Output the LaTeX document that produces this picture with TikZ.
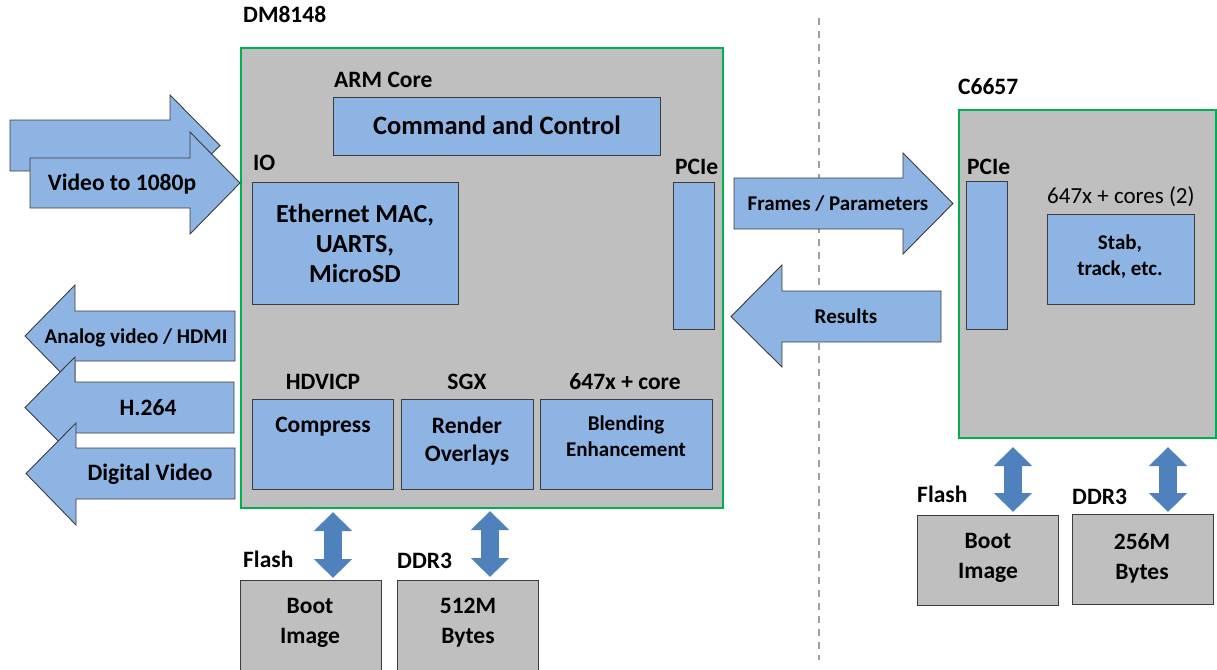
\documentclass[tikz,border=0pt]{standalone}
\usepackage{fontspec}
\setmainfont{Carlito}
\usetikzlibrary{arrows.meta}
\definecolor{chipgray}{RGB}{191,191,191}
\definecolor{blk}{RGB}{141,180,226}
\definecolor{grn}{RGB}{0,176,80}
\definecolor{dblblue}{RGB}{79,129,189}
\definecolor{edgegray}{RGB}{60,60,60}
\definecolor{sepgray}{RGB}{160,160,160}
\tikzset{
  chip/.style={draw=grn, line width=2.2pt, fill=chipgray, anchor=north west, inner sep=0pt},
  bluebox/.style={draw=edgegray, line width=0.9pt, fill=blk, anchor=north west, inner sep=0pt},
  mem/.style={draw=edgegray, line width=0.9pt, fill=chipgray, anchor=north west, inner sep=0pt},
  barrow/.style={draw=edgegray, line width=0.9pt, fill=blk, line join=miter},
  tbig/.style={font=\fontsize{26.5}{31}\selectfont\bfseries, inner sep=0pt, align=center},
  tmid/.style={font=\fontsize{23.5}{30}\selectfont\bfseries, inner sep=0pt, align=center},
  tsm/.style={font=\fontsize{21}{26}\selectfont\bfseries, inner sep=0pt, align=center},
  lbl/.style={font=\fontsize{23.5}{28}\selectfont\bfseries, inner sep=0pt, anchor=base west},
  dblarrow/.style={draw=dblblue, line width=18pt,
     {Triangle[width=37pt,length=19pt,fill=dblblue]}-{Triangle[width=37pt,length=19pt,fill=dblblue]}},
  sepline/.style={draw=sepgray, line width=1.6pt, dash pattern=on 7pt off 6pt},
}
\begin{document}
\begin{tikzpicture}[x=1pt,y=-1pt]
\useasboundingbox (0,0) rectangle (1217,669);

% dashed separator
\coordinate (dsT) at (819,18);
\coordinate (dsB) at (819,660);
\draw[sepline] (dsT) -- (dsB);

% ---------- DM8148 ----------
\node[lbl] (dmlbl) at (243,23) {DM8148};
\node[chip, minimum width=482, minimum height=460] (dm) at (240,47) {};
\node[lbl] (armlbl) at (334,87) {ARM Core};
\node[bluebox, minimum width=327, minimum height=58] (cmd) at (333,97) {};
\node[tbig] (cmdt) at (497,125) {Command and Control};
\node[lbl] (iolbl) at (253,170) {IO};
\node[bluebox, minimum width=206, minimum height=122] (eth) at (252,182) {};
\node[tbig, font=\fontsize{26}{30}\selectfont\bfseries] (etht) at (355,243) {Ethernet MAC,\\UARTS,\\MicroSD};
\node[lbl] (pcielbl) at (675,174) {PCIe};
\node[bluebox, minimum width=41, minimum height=147] (pcie) at (673,182) {};
\node[tmid, anchor=base] (hdlbl) at (323,389) {HDVICP};
\node[tmid, anchor=base] (sgxlbl) at (467,389) {SGX};
\node[tmid, anchor=base] (c647lbl) at (625,389) {647x + core};
\node[bluebox, minimum width=141, minimum height=90] (comp) at (252,399) {};
\node[bluebox, minimum width=132, minimum height=90] (rend) at (401,399) {};
\node[bluebox, minimum width=172, minimum height=90] (blend) at (540,399) {};
\node[tmid] (compt) at (323,427) {Compress};
\node[tmid, font=\fontsize{23.5}{28}\selectfont\bfseries] (rendt) at (467,441) {Render\\Overlays};
\node[tsm] (blendt) at (626,436) {Blending\\Enhancement};

% memories DM8148
\node[lbl] (fl1) at (243,567) {Flash};
\node[lbl] (dd1) at (397,568) {DDR3};
\node[mem, minimum width=141, minimum height=92] (boot1) at (240,580) {};
\node[mem, minimum width=141, minimum height=92] (ram1) at (397,580) {};
\node[tmid] (boot1t) at (310,623) {Boot\\Image};
\node[tmid] (ram1t) at (468,623) {512M\\Bytes};
\coordinate (a1t) at (333,512);
\coordinate (a1b) at (333,578);
\coordinate (a2t) at (490,511);
\coordinate (a2b) at (490,577);
\draw[dblarrow] (a1t) -- (a1b);
\draw[dblarrow] (a2t) -- (a2b);

% ---------- C6657 ----------
\node[lbl] (c66lbl) at (958,94) {C6657};
\node[chip, minimum width=257, minimum height=328] (c66) at (958,109) {};
\node[lbl] (pcie2lbl) at (967,174) {PCIe};
\node[bluebox, minimum width=41, minimum height=148] (pcie2) at (966,181) {};
\node[lbl, font=\fontsize{23}{28}\selectfont] (corelbl) at (1047,203) {647x + cores (2)};
\node[bluebox, minimum width=147, minimum height=90] (stab) at (1047,214) {};
\node[tsm] (stabt) at (1120,257) {Stab,\\track, etc.};

\node[lbl] (fl2) at (917,502) {Flash};
\node[lbl] (dd2) at (1072,504) {DDR3};
\node[mem, minimum width=141, minimum height=90] (boot2) at (917,515) {};
\node[mem, minimum width=141, minimum height=90] (ram2) at (1072,514) {};
\node[tmid] (boot2t) at (988,558) {Boot\\Image};
\node[tmid] (ram2t) at (1142,558) {256M\\Bytes};
\coordinate (a3t) at (1013,447);
\coordinate (a3b) at (1013,512);
\coordinate (a4t) at (1168,447);
\coordinate (a4b) at (1168,512);
\draw[dblarrow] (a3t) -- (a3b);
\draw[dblarrow] (a4t) -- (a4b);

% ---------- block arrows ----------
% video in (back)
\draw[barrow] (10,120) -- (170,120) -- (170,95) -- (220,145.5) -- (170,196) -- (170,171) -- (10,171) -- cycle;
% video in (front)
\draw[barrow] (30,158) -- (190,158) -- (190,132) -- (240,183) -- (190,234) -- (190,208) -- (30,208) -- cycle;
\node[tmid] (vid) at (122,184) {Video to 1080p};

% outputs
\draw[barrow] (235,311) -- (75,311) -- (75,285) -- (25,336) -- (75,387) -- (75,361) -- (235,361) -- cycle;
\node[tsm] (ana) at (136,338) {Analog video / HDMI};
\draw[barrow] (234,382) -- (75,382) -- (75,357) -- (25,407.5) -- (75,458) -- (75,433) -- (234,433) -- cycle;
\node[tmid] (h264) at (148,408) {H.264};
\draw[barrow] (235,448) -- (76,448) -- (76,423) -- (26,473.5) -- (76,525) -- (76,499) -- (235,499) -- cycle;
\node[tmid] (digv) at (150,474) {Digital Video};

% interconnect
\draw[barrow] (734,178) -- (903,178) -- (903,153) -- (953,203.5) -- (903,254) -- (903,229) -- (734,229) -- cycle;
\node[tsm] (frames) at (838,204) {Frames / Parameters};
\draw[barrow] (941,291) -- (782,291) -- (782,265) -- (731,316.5) -- (782,367) -- (782,342) -- (941,342) -- cycle;
\node[tsm] (res) at (846,316) {Results};
\end{tikzpicture}
\end{document}
